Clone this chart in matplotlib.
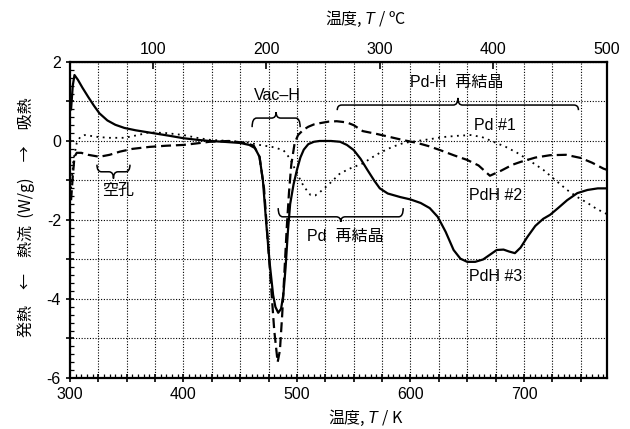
import numpy as np
import matplotlib
matplotlib.use("Agg")
import matplotlib.pyplot as plt
from matplotlib.path import Path
from matplotlib.patches import PathPatch
from matplotlib.ticker import MultipleLocator, FuncFormatter

plt.rcParams['font.family'] = ['Liberation Sans', 'Noto Sans CJK JP', 'DejaVu Sans']
plt.rcParams['mathtext.fontset'] = 'custom'
plt.rcParams['mathtext.it'] = 'Liberation Sans:italic'
plt.rcParams['mathtext.rm'] = 'Liberation Sans'
plt.rcParams['font.size'] = 11

# PdH #3 (solid)
t_pdh3 = [301, 302.5, 304, 307, 311, 316, 321, 326, 333, 340, 348, 358, 373, 388, 400,
          412, 423, 435, 450, 458, 463, 467, 470, 473, 476, 479, 481, 483.5, 486, 488,
          490, 492, 494, 497, 500, 503, 506, 510, 515, 520, 530, 538, 544, 550, 556,
          562, 568, 573, 580, 591, 600, 609, 617, 624, 631, 638, 644, 650, 657, 664,
          670, 676, 682, 687, 692, 697, 703, 710, 717, 723, 730, 738, 747, 756, 765, 773]
v_pdh3 = [0.8, 1.4, 1.67, 1.55, 1.35, 1.12, 0.9, 0.7, 0.52, 0.41, 0.33, 0.27, 0.2, 0.13, 0.07,
          0.03, 0.0, -0.02, -0.05, -0.1, -0.18, -0.4, -1.0, -2.1, -3.1, -3.9, -4.2, -4.35, -4.25, -3.9,
          -3.2, -2.3, -1.6, -1.1, -0.73, -0.42, -0.22, -0.08, -0.02, 0.0, 0.0, -0.02, -0.1, -0.23, -0.45,
          -0.73, -1.0, -1.2, -1.33, -1.42, -1.48, -1.57, -1.7, -1.92, -2.3, -2.76, -2.98, -3.06, -3.06, -3.0,
          -2.88, -2.76, -2.75, -2.8, -2.84, -2.7, -2.43, -2.15, -1.97, -1.87, -1.7, -1.5, -1.32, -1.24, -1.2, -1.2]

# PdH #2 (dashed)
t_pdh2 = [301, 302.5, 304, 306, 310, 316, 326, 335, 344, 355, 370, 385, 400, 412, 423,
          440, 455, 462, 467, 471, 474, 477, 480, 483, 485, 487, 489, 491, 493, 495,
          498, 501, 505.5, 510, 515, 520, 528, 535, 544, 550, 558, 570, 582, 594, 606,
          616, 626, 638, 650, 660, 670, 680, 690, 697, 710, 723, 737, 750, 760, 770, 773]
v_pdh2 = [-1.5, -0.9, -0.4, -0.3, -0.3, -0.35, -0.4, -0.35, -0.27, -0.2, -0.15, -0.12, -0.1, -0.06, -0.02,
          0.0, -0.05, -0.12, -0.4, -1.2, -2.4, -3.6, -4.8, -5.6, -5.3, -4.4, -3.3, -2.2, -1.3, -0.6,
          -0.05, 0.15, 0.28, 0.36, 0.42, 0.45, 0.49, 0.5, 0.47, 0.4, 0.25, 0.18, 0.1, 0.02, -0.05,
          -0.13, -0.23, -0.36, -0.48, -0.62, -0.88, -0.75, -0.6, -0.53, -0.42, -0.36, -0.35, -0.43, -0.55, -0.7, -0.73]

# Pd #1 (dotted)
t_pd1 = [301, 303, 306, 309, 313, 318, 325, 335, 348, 360, 370, 385, 400, 412, 423,
         440, 455, 467, 478, 488, 494, 500, 506, 512, 516, 520, 528, 538, 548, 558,
         566, 573, 584, 594, 606, 618, 629, 641, 653, 663, 673, 684, 694, 705, 717,
         728, 738, 747, 756, 764, 773]
v_pd1 = [-1.2, -0.5, -0.05, 0.1, 0.15, 0.13, 0.1, 0.08, 0.08, 0.15, 0.22, 0.2, 0.15, 0.08, 0.03,
         0.0, -0.03, -0.1, -0.15, -0.23, -0.45, -0.82, -1.15, -1.37, -1.38, -1.3, -1.1, -0.82, -0.68, -0.57,
         -0.42, -0.3, -0.15, -0.05, 0.0, 0.05, 0.1, 0.13, 0.15, 0.1, -0.02, -0.15, -0.3, -0.5, -0.73,
         -1.0, -1.24, -1.42, -1.57, -1.72, -1.85]


def brace(ax, x0, x1, y_end, y_bar, y_tip, r=4.0):
    # curly brace in data coords; tip at the middle
    xm = (x0 + x1) / 2
    verts = [(x0, y_end), (x0, y_bar), (x0 + r, y_bar),
             (xm - r, y_bar), (xm, y_bar), (xm, y_tip),
             (xm, y_bar), (xm + r, y_bar),
             (x1 - r, y_bar), (x1, y_bar), (x1, y_end)]
    codes = [Path.MOVETO, Path.CURVE3, Path.CURVE3,
             Path.LINETO, Path.CURVE3, Path.CURVE3,
             Path.CURVE3, Path.CURVE3,
             Path.LINETO, Path.CURVE3, Path.CURVE3]
    ax.add_patch(PathPatch(Path(verts, codes), fill=False, lw=1.1, color='black'))


fig = plt.figure(figsize=(6.3, 4.29), dpi=100)
ax = fig.add_axes([0.111, 0.119, 0.8525, 0.7365])

ax.plot(t_pdh3, v_pdh3, color='black', lw=1.6)
ax.plot(t_pdh2, v_pdh2, color='black', lw=1.6, dashes=(4.5, 2.2))
ax.plot(t_pd1, v_pd1, color='black', lw=1.3, linestyle=(0, (1, 2.5)))

ax.set_xlim(300, 773.15)
ax.set_ylim(-6, 2)

ax.xaxis.set_major_locator(MultipleLocator(25))
ax.xaxis.set_minor_locator(MultipleLocator(5))
ax.xaxis.set_major_formatter(FuncFormatter(lambda v, p: f"{v:.0f}" if abs(v % 100) < 1e-6 else ""))
ax.yaxis.set_major_locator(MultipleLocator(1))
ax.yaxis.set_minor_locator(MultipleLocator(0.2))
ax.yaxis.set_major_formatter(FuncFormatter(lambda v, p: f"{v:.0f}" if abs(v % 2) < 1e-6 else ""))
ax.tick_params(which='major', direction='inout', length=6, width=1.2, top=False, right=False)
ax.tick_params(which='minor', direction='in', length=3, width=0.9, top=False, right=False)
ax.tick_params(axis='both', labelsize=11.5)

ax.grid(True, which='major', color='black', linestyle=(0, (1, 1.5)), lw=0.8)
for s in ax.spines.values():
    s.set_linewidth(1.6)

sec = ax.secondary_xaxis('top', functions=(lambda k: k - 273.15, lambda c: c + 273.15))
sec.set_xticks([100, 200, 300, 400, 500])
sec.tick_params(direction='in', length=5, width=1.2, labelsize=11.5)
sec.set_xlabel('温度, $T$ / ºC', fontsize=11.5, labelpad=13, x=0.55,
               family='Noto Sans CJK JP')

ax.set_xlabel('温度, $T$ / K', fontsize=11.5, labelpad=4, x=0.55, family='Noto Sans CJK JP')
ax.set_ylabel('発熱　←　熱流  (W/g)　→　吸熱', fontsize=11.5,
              family=['Noto Sans CJK JP', 'DejaVu Sans'])
ax.yaxis.set_label_coords(-0.065, 0.51)

brace(ax, 323.8, 352.9, -0.6, -0.78, -0.95)
brace(ax, 460.5, 502.8, 0.35, 0.58, 0.73)
brace(ax, 535.5, 748, 0.78, 0.91, 1.09)
brace(ax, 483.5, 593.6, -1.7, -1.92, -2.05)

fs = 11.5
ax.text(342, -1.24, '空孔', ha='center', va='center', fontsize=fs)
ax.text(482.5, 1.16, 'Vac–H', ha='center', va='center', fontsize=fs)
ax.text(641, 1.47, 'Pd-H  再結晶', ha='center', va='center', fontsize=fs)
ax.text(674, 0.4, 'Pd #1', ha='center', va='center', fontsize=fs)
ax.text(675, -1.37, 'PdH #2', ha='center', va='center', fontsize=fs)
ax.text(675, -3.44, 'PdH #3', ha='center', va='center', fontsize=fs)
ax.text(542.5, -2.43, 'Pd  再結晶', ha='center', va='center', fontsize=fs)

fig.savefig('out.png', dpi=100)
